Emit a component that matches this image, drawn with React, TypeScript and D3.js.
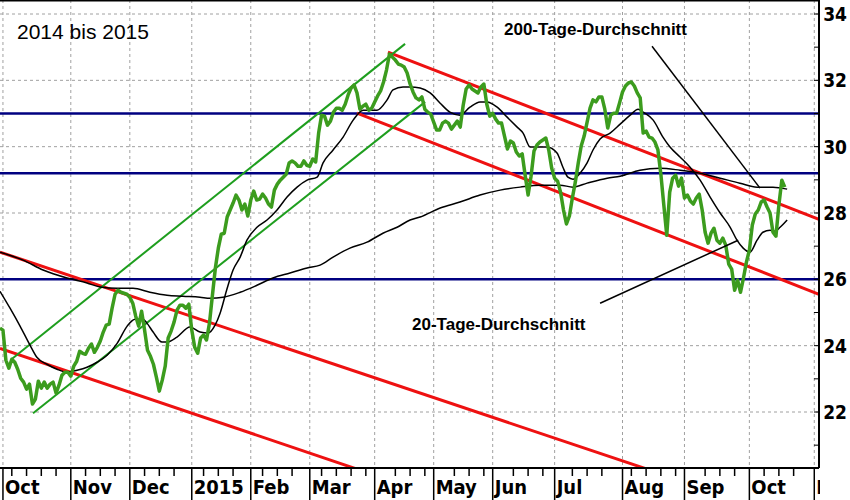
import { useEffect, useRef } from 'react';
import * as d3 from 'd3';

// daily closes, one per trading day from end of Sep 2014
const closes = [
  24.53, 24.47, 23.56, 23.32, 23.59, 23.50, 23.29, 23.02, 22.90, 22.69,
  22.84, 22.24, 22.39, 22.93, 22.72, 22.90, 22.72, 22.84, 22.90, 22.57,
  22.81, 23.11, 23.20, 23.20, 23.08, 23.38, 23.53, 23.83, 23.77, 23.74,
  23.92, 24.05, 23.80, 23.95, 24.14, 24.41, 24.62, 24.65, 25.13, 25.55,
  25.67, 25.61, 25.58, 25.55, 25.46, 25.28, 24.89, 24.59, 25.04, 24.47,
  23.86, 23.68, 23.44, 23.05, 22.63, 22.96, 23.38, 24.23, 24.44, 24.71,
  25.07, 25.22, 25.22, 25.13, 25.25, 24.47, 23.95, 23.77, 24.23, 24.32,
  24.17, 24.68, 25.52, 26.34, 26.94, 27.36, 27.39, 27.88, 28.09, 28.30,
  28.54, 28.39, 28.09, 28.27, 27.91, 28.39, 28.66, 28.39, 28.42, 28.57,
  28.45, 28.27, 28.18, 28.69, 28.87, 28.99, 29.08, 29.17, 29.51, 29.57,
  29.51, 29.41, 29.41, 29.57, 29.44, 29.41, 29.63, 29.54, 30.41, 30.95,
  30.92, 30.65, 30.77, 31.04, 31.16, 31.16, 31.10, 31.28, 31.56, 31.77,
  31.86, 31.62, 31.13, 31.22, 31.28, 31.10, 31.16, 31.35, 31.53, 31.68,
  31.95, 32.31, 32.79, 32.70, 32.61, 32.49, 32.46, 32.40, 32.22, 31.89,
  31.65, 31.47, 31.41, 31.50, 31.13, 31.04, 30.98, 30.74, 30.50, 30.50,
  30.71, 30.77, 30.71, 30.53, 30.65, 30.77, 30.59, 31.25, 31.74, 31.86,
  31.74, 31.68, 31.62, 31.80, 31.89, 31.28, 30.92, 31.01, 30.83, 30.71,
  30.71, 30.32, 29.93, 30.17, 30.11, 29.84, 29.72, 29.78, 29.14, 28.54,
  29.11, 29.87, 30.05, 30.14, 30.20, 30.26, 29.90, 29.35, 29.05, 28.96,
  28.63, 28.09, 27.67, 27.91, 28.45, 28.93, 29.51, 30.02, 30.32, 30.74,
  31.16, 31.41, 31.35, 31.50, 31.50, 31.13, 30.56, 30.95, 31.01, 31.01,
  31.32, 31.65, 31.83, 31.92, 31.95, 31.83, 31.62, 31.47, 30.41, 30.47,
  30.29, 30.26, 30.14, 29.90, 29.17, 28.24, 27.33, 28.63, 29.05, 29.14,
  28.81, 29.05, 28.45, 28.54, 28.36, 28.27, 28.45, 28.57, 28.09, 27.42,
  27.09, 27.39, 27.54, 27.18, 27.09, 27.24, 27.03, 26.46, 26.31, 25.67,
  25.98, 25.61, 26.04, 26.52, 26.88, 27.64, 27.97, 28.09, 28.33, 28.39,
  28.18, 28.00, 27.42, 27.30, 28.24, 28.99, 28.78,
];

// 20-Tage-Durchschnitt
const ma20Days = [
  0, 3.4, 6.8, 10.2, 12.5, 15.9, 19.3, 22.7, 26.1, 29.5, 32.9, 36.3, 39.7, 43.1,
  45.8, 48.5, 49.8, 51.9, 54.9, 56.6, 60, 64.4, 67.8, 70.5, 72.9, 74.6, 77, 79,
  81.4, 83.7, 87.1, 90.5, 93.9, 97.3, 100.7, 104.1, 107.5, 109.5, 112.9, 116.3,
  119.7, 123.1, 127.8, 131.2, 133.2, 136.6, 139, 142.4, 145.8, 149.2, 152.5,
  155.9, 159.3, 162.7, 165.1, 168.5, 171.9, 175.3, 177.3, 179.7, 182, 185.4,
  188.8, 190.8, 192.5, 194.2, 196.6, 199, 201, 203.4, 206.8, 210.2, 213.6,
  216.3, 218, 221.4, 224.7, 227.1, 230.5, 233.9, 237.3, 240.7, 244.1, 247.5,
  249.8, 251.9, 254.2, 256.6, 258.6, 261, 262.7, 264.4, 266.8,
];
const ma20Values = [
  25.64, 25.13, 24.59, 24.01, 23.65, 23.44, 23.29, 23.20, 23.26, 23.35, 23.50,
  23.71, 24.07, 24.59, 24.80, 24.80, 24.68, 24.41, 24.11, 24.11, 24.26, 24.56,
  24.41, 24.38, 24.62, 24.98, 25.73, 26.28, 26.67, 27.18, 27.57, 27.79, 28.09,
  28.48, 28.78, 28.99, 29.08, 29.51, 29.90, 30.29, 30.80, 31.10, 31.10, 31.41,
  31.71, 31.80, 31.80, 31.77, 31.62, 31.31, 31.04, 30.95, 31.19, 31.35, 31.35,
  31.19, 30.89, 30.59, 30.41, 29.99, 29.99, 29.99, 29.81, 29.38, 29.08, 29.02,
  29.20, 29.51, 29.90, 30.23, 30.41, 30.68, 30.95, 31.13, 31.04, 30.80, 30.29,
  29.99, 29.69, 29.38, 28.99, 28.48, 28.00, 27.57, 27.18, 26.94, 26.82, 27.18,
  27.42, 27.48, 27.45, 27.57, 27.79,
];

// 200-Tage-Durchschnitt
const ma200Days = [
  0, 7.8, 14.6, 22.7, 29.5, 33.9, 39.7, 45.1, 50.8, 56.6, 62, 67.8, 71.2, 75.6,
  81.4, 87.1, 92.5, 98.3, 104.1, 108.5, 112.9, 118.6, 124.4, 129.8, 134.6, 139,
  142.4, 149.2, 155.9, 162.7, 169.5, 176.3, 183.1, 189.8, 194.2, 199, 205.8,
  210.2, 216.9, 223.7, 230.5, 237.3, 244.1, 250.8, 256.6, 262, 266.8,
];
const ma200Values = [
  26.82, 26.58, 26.28, 26.04, 25.89, 25.77, 25.73, 25.73, 25.61, 25.52, 25.49,
  25.46, 25.43, 25.46, 25.61, 25.82, 26.04, 26.19, 26.34, 26.43, 26.67, 26.94,
  27.12, 27.39, 27.57, 27.79, 27.88, 28.15, 28.33, 28.54, 28.69, 28.78, 28.84,
  28.84, 28.78, 28.90, 29.05, 29.11, 29.29, 29.35, 29.29, 29.20, 29.05, 28.90,
  28.78, 28.78, 28.72,
];

const monthLabels = ['Oct', 'Nov', 'Dec', '2015', 'Feb', 'Mar', 'Apr', 'May', 'Jun', 'Jul', 'Aug', 'Sep', 'Oct', 'N'];
const monthStarts = [1, 24, 44, 65, 85, 105, 127, 147, 167, 188, 211, 232, 254, 276];
const yTicks = [22, 24, 26, 28, 30, 32, 34];
const levels = [31.0, 29.2, 26.0];

// trend lines as [day, value] pairs
const greenChannel: [number, number][][] = [
  [[4, 23.6], [137.3, 33.1]],
  [[11.2, 21.96], [144.1, 31.35]],
];
const redTrends: [number, number][][] = [
  [[0, 26.82], [218.6, 20.3]],
  [[0, 23.92], [120.3, 20.3]],
  [[131.5, 32.85], [277.6, 27.81]],
  [[121, 31.01], [277.6, 25.55]],
];
const pointers: [number, number][][] = [
  [[221, 33.03], [257.6, 28.75]],
  [[203.4, 25.28], [250.2, 27.18]],
];

export default function App() {
  const svgRef = useRef<SVGSVGElement>(null);

  useEffect(() => {
    if (!svgRef.current) return;
    const svg = d3.select(svgRef.current);
    svg.selectAll('*').remove();

    const plotRight = 819;
    const plotBottom = 468;
    const narrow = "'Liberation Sans Narrow', 'DejaVu Sans Condensed', 'Arial Narrow', sans-serif";

    const x = d3.scaleLinear().domain([0, 277.6]).range([0, plotRight]);
    const y = d3.scaleLinear().domain([34, 22]).range([14, 412]);

    const defs = svg.append('defs');
    defs.append('clipPath')
      .attr('id', 'plot-clip')
      .append('rect')
      .attr('x', 0)
      .attr('y', 0)
      .attr('width', plotRight)
      .attr('height', plotBottom);
    defs.append('clipPath')
      .attr('id', 'plot-clip-x')
      .append('rect')
      .attr('x', 0).attr('y', plotBottom)
      .attr('width', plotRight + 1).attr('height', 40);

    // grid
    const grid = svg.append('g')
      .attr('stroke', '#a0a0a0')
      .attr('stroke-width', 1)
      .attr('stroke-dasharray', '3,3');
    grid.selectAll('line.h')
      .data(yTicks)
      .join('line')
      .attr('x1', 0)
      .attr('x2', plotRight)
      .attr('y1', d => y(d))
      .attr('y2', d => y(d));
    grid.selectAll('line.v')
      .data(monthStarts)
      .join('line')
      .attr('x1', d => x(d))
      .attr('x2', d => x(d))
      .attr('y1', 0)
      .attr('y2', plotBottom);

    const plot = svg.append('g').attr('clip-path', 'url(#plot-clip)');

    // horizontal levels
    plot.selectAll('line.level')
      .data(levels)
      .join('line')
      .attr('x1', 0)
      .attr('x2', plotRight)
      .attr('y1', d => y(d))
      .attr('y2', d => y(d))
      .attr('stroke', '#000080')
      .attr('stroke-width', 2.5);

    const seg = d3.line<[number, number]>()
      .x(d => x(d[0]))
      .y(d => y(d[1]));

    plot.selectAll('path.red')
      .data(redTrends)
      .join('path')
      .attr('d', d => seg(d))
      .attr('stroke', '#ee1111')
      .attr('stroke-width', 3)
      .attr('fill', 'none');

    plot.selectAll('path.chan')
      .data(greenChannel)
      .join('path')
      .attr('d', d => seg(d))
      .attr('stroke', '#1e9e1e')
      .attr('stroke-width', 2)
      .attr('fill', 'none');

    // moving averages
    const maLine = d3.line<number>().curve(d3.curveMonotoneX);
    plot.append('path')
      .attr('d', maLine.x((_, i) => x(ma200Days[i])).y(d => y(d))(ma200Values))
      .attr('stroke', '#000')
      .attr('stroke-width', 1.5)
      .attr('fill', 'none');
    plot.append('path')
      .attr('d', maLine.x((_, i) => x(ma20Days[i])).y(d => y(d))(ma20Values))
      .attr('stroke', '#000')
      .attr('stroke-width', 1.5)
      .attr('fill', 'none');

    // price
    const priceLine = d3.line<number>()
      .x((_, i) => x(i))
      .y(d => y(d));
    plot.append('path')
      .datum(closes)
      .attr('d', priceLine)
      .attr('stroke', '#3c9c1e')
      .attr('stroke-width', 3.5)
      .attr('stroke-linejoin', 'round')
      .attr('fill', 'none');

    // annotation pointers
    plot.selectAll('path.ptr')
      .data(pointers)
      .join('path')
      .attr('d', d => seg(d))
      .attr('stroke', '#000')
      .attr('stroke-width', 1.5)
      .attr('fill', 'none');

    // frame
    svg.append('line')
      .attr('x1', 0).attr('x2', plotRight)
      .attr('y1', 0.5).attr('y2', 0.5)
      .attr('stroke', '#000').attr('stroke-width', 2);
    svg.append('line')
      .attr('x1', plotRight).attr('x2', plotRight)
      .attr('y1', 0).attr('y2', plotBottom)
      .attr('stroke', '#000').attr('stroke-width', 2);
    svg.append('line')
      .attr('x1', 0).attr('x2', plotRight)
      .attr('y1', plotBottom).attr('y2', plotBottom)
      .attr('stroke', '#000').attr('stroke-width', 2);

    // right axis
    svg.selectAll('line.ytick')
      .data(d3.range(21, 35))
      .join('line')
      .attr('x1', plotRight - 5)
      .attr('x2', plotRight)
      .attr('y1', d => y(d))
      .attr('y2', d => y(d))
      .attr('stroke', '#000');
    svg.selectAll('text.ylab')
      .data(yTicks)
      .join('text')
      .attr('x', 847)
      .attr('y', d => y(d) + 7)
      .attr('text-anchor', 'end')
      .attr('font-family', narrow)
      .attr('font-stretch', 'condensed')
      .attr('font-weight', 'bold')
      .attr('font-size', 19)
      .attr('fill', '#000')
      .text(d => d);

    // bottom axis
    const xAxis = svg.append('g');
    const minor = d3.range(4, 277, 5).filter(d => monthStarts.every(m => Math.abs(x(m) - x(d)) > 6));
    xAxis.selectAll('line.minor')
      .data(minor)
      .join('line')
      .attr('x1', d => x(d))
      .attr('x2', d => x(d))
      .attr('y1', plotBottom)
      .attr('y2', plotBottom + 8)
      .attr('stroke', '#000')
      .attr('stroke-width', 1.5);
    xAxis.selectAll('line.major')
      .data(monthStarts)
      .join('line')
      .attr('x1', d => x(d))
      .attr('x2', d => x(d))
      .attr('y1', plotBottom)
      .attr('y2', 500)
      .attr('stroke', '#000')
      .attr('stroke-width', 1.5);
    xAxis.selectAll('text')
      .data(monthLabels)
      .join('text')
      .attr('x', (_, i) => x(monthStarts[i]) + 2)
      .attr('y', 494)
      .attr('font-family', narrow)
      .attr('font-stretch', 'condensed')
      .attr('font-weight', 'bold')
      .attr('font-size', 20)
      .attr('fill', '#000')
      .attr('clip-path', 'url(#plot-clip-x)')
      .text(d => d);

    // texts
    svg.append('text')
      .attr('x', 17)
      .attr('y', 39)
      .attr('font-family', "'Liberation Sans', Arial, sans-serif")
      .attr('font-size', 21)
      .attr('fill', '#000')
      .text('2014 bis 2015');
    svg.append('text')
      .attr('x', 504)
      .attr('y', 35)
      .attr('font-family', "'Liberation Sans', Arial, sans-serif")
      .attr('font-weight', 'bold')
      .attr('font-size', 17)
      .attr('fill', '#000')
      .text('200-Tage-Durchschnitt');
    svg.append('text')
      .attr('x', 412)
      .attr('y', 330)
      .attr('font-family', "'Liberation Sans', Arial, sans-serif")
      .attr('font-weight', 'bold')
      .attr('font-size', 17)
      .attr('fill', '#000')
      .text('20-Tage-Durchschnitt');
  }, []);

  return (
    <svg
      ref={svgRef}
      width={850}
      height={500}
      style={{ position: 'absolute', left: 0, top: 0, display: 'block', background: '#fff' }}
    />
  );
}
